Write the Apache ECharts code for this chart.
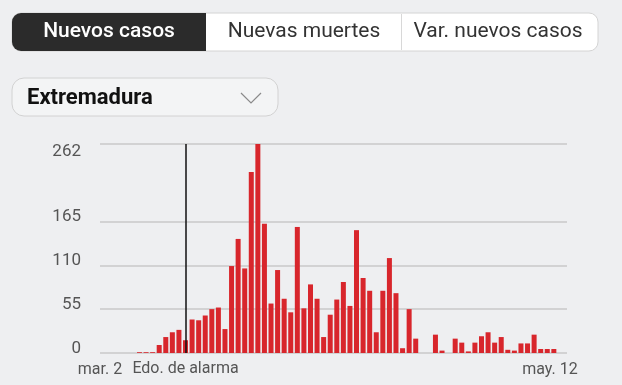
<!DOCTYPE html>
<html>
<head>
<meta charset="utf-8">
<script src="https://cdn.jsdelivr.net/npm/echarts@6/dist/echarts.min.js"></script>
<style>
html,body{margin:0;padding:0;background:#eeeff1;}
#c{width:622px;height:385px;}
</style>
</head>
<body>
<div id="c"></div>
<script>
// Categories: one per day, mar. 2 .. may. 12
const categories = [
 'mar. 2','mar. 3','mar. 4','mar. 5','mar. 6','mar. 7','mar. 8','mar. 9','mar. 10','mar. 11',
 'mar. 12','mar. 13','mar. 14','mar. 15','mar. 16','mar. 17','mar. 18','mar. 19','mar. 20','mar. 21',
 'mar. 22','mar. 23','mar. 24','mar. 25','mar. 26','mar. 27','mar. 28','mar. 29','mar. 30','mar. 31',
 'abr. 1','abr. 2','abr. 3','abr. 4','abr. 5','abr. 6','abr. 7','abr. 8','abr. 9','abr. 10',
 'abr. 11','abr. 12','abr. 13','abr. 14','abr. 15','abr. 16','abr. 17','abr. 18','abr. 19','abr. 20',
 'abr. 21','abr. 22','abr. 23','abr. 24','abr. 25','abr. 26','abr. 27','abr. 28','abr. 29','abr. 30',
 'may. 1','may. 2','may. 3','may. 4','may. 5','may. 6','may. 7','may. 8','may. 9','may. 10',
 'may. 11','may. 12'
];
// Nuevos casos, Extremadura
const newCases = [
 0,0,0,0,0,0,1,1,1,10,
 20,26,29,16,42,41,47,55,57,30,
 109,143,106,227,262,162,62,104,68,51,
 158,56,86,68,20,48,67,89,59,154,
 94,78,26,78,119,75,6,55,18,0,
 0,23,3,0,18,13,2,13,21,26,
 13,20,4,3,12,12,23,5,5,5,
 0,0
];
const yTicks = [0, 55, 110, 165, 262];
const xLabelsShown = ['mar. 2', 'may. 12'];
const alarmDate = 'mar. 15';
const alarmLabel = 'Edo. de alarma';
const tabs = ['Nuevos casos', 'Nuevas muertes', 'Var. nuevos casos'];
const region = 'Extremadura';

const FONT = 'Roboto, "Open Sans", sans-serif';
const yMax = yTicks[yTicks.length - 1];
const chart = echarts.init(document.getElementById('c'), null, {renderer: 'canvas'});

const baseY = {
  type: 'value',
  min: 0,
  max: yMax,
  position: 'left',
  axisLine: {show: false},
  axisTick: {show: false},
  splitLine: {show: false}
};

const option = {
  backgroundColor: '#eeeff1',
  animation: false,
  textStyle: {fontFamily: FONT},
  grid: {left: 100, right: 55, top: 144, bottom: 32, containLabel: false},
  xAxis: {
    type: 'category',
    data: categories,
    boundaryGap: false,
    axisLine: {show: false},
    axisTick: {show: false},
    splitLine: {show: false},
    axisLabel: {
      interval: 0,
      margin: 9,
      color: '#555',
      fontSize: 16,
      fontFamily: FONT,
      formatter: function (v) {
        if (v === xLabelsShown[0]) return v;
        if (v === xLabelsShown[1]) return '{last|' + v + '}';
        return '';
      },
      rich: {last: {padding: [0, 34, 0, 0], color: '#555', fontSize: 16, fontFamily: FONT}}
    }
  },
  yAxis: [
    Object.assign({}, baseY, {
      axisLabel: {
        customValues: yTicks.slice(0, -1),
        margin: 19,
        color: '#555',
        fontSize: 17,
        fontFamily: FONT,
        verticalAlign: 'bottom',
        lineHeight: 9
      }
    }),
    Object.assign({}, baseY, {
      axisLabel: {
        customValues: [yMax],
        margin: 19,
        color: '#555',
        fontSize: 17,
        fontFamily: FONT,
        verticalAlign: 'top',
        lineHeight: 16
      }
    })
  ],
  series: [
    {
      type: 'bar',
      data: newCases,
      barWidth: 5,
      itemStyle: {color: '#d8262c'},
      z: 3,
      markLine: {
        silent: true,
        symbol: 'none',
        z: 1,
        label: {show: false},
        lineStyle: {color: '#c8c8c8', width: 1.5, type: 'solid'},
        data: yTicks.map(v => ({yAxis: v}))
      }
    },
    {
      type: 'line',
      data: [],
      z: 5,
      markLine: {
        silent: true,
        symbol: 'none',
        lineStyle: {color: '#111', width: 1.5, type: 'solid'},
        label: {
          show: true,
          position: 'start',
          distance: 8,
          formatter: alarmLabel,
          color: '#555',
          fontSize: 16,
          fontFamily: FONT
        },
        data: [{xAxis: alarmDate}]
      }
    }
  ],
  graphic: [
    {type: 'rect', shape: {x: 12, y: 13, width: 586, height: 38, r: 9},
     style: {fill: '#ffffff', stroke: '#d4d4d4', lineWidth: 1}},
    {type: 'rect', shape: {x: 12, y: 13, width: 194, height: 38, r: [9, 0, 0, 9]},
     style: {fill: '#2b2b2b'}},
    {type: 'line', shape: {x1: 401.5, y1: 14, x2: 401.5, y2: 50},
     style: {stroke: '#d8d8d8', lineWidth: 1}},
    {type: 'text', x: 109, y: 32,
     style: {text: tabs[0], fill: '#ffffff', font: '500 21px ' + FONT, align: 'center', verticalAlign: 'middle'}},
    {type: 'text', x: 304, y: 32,
     style: {text: tabs[1], fill: '#333333', font: '21px ' + FONT, align: 'center', verticalAlign: 'middle'}},
    {type: 'text', x: 498, y: 32,
     style: {text: tabs[2], fill: '#333333', font: '21px ' + FONT, align: 'center', verticalAlign: 'middle'}},
    {type: 'rect', shape: {x: 12, y: 78, width: 266, height: 38, r: 12},
     style: {fill: '#f3f4f5', stroke: '#d2d2d2', lineWidth: 1}},
    {type: 'text', x: 27, y: 98,
     style: {text: region, fill: '#111111', font: 'bold 22px ' + FONT, align: 'left', verticalAlign: 'middle'}},
    {type: 'polyline', shape: {points: [[241, 93], [251, 103], [261, 93]]},
     style: {stroke: '#8a8a8a', lineWidth: 1.2, fill: null}}
  ]
};
chart.setOption(option);
</script>
</body>
</html>
